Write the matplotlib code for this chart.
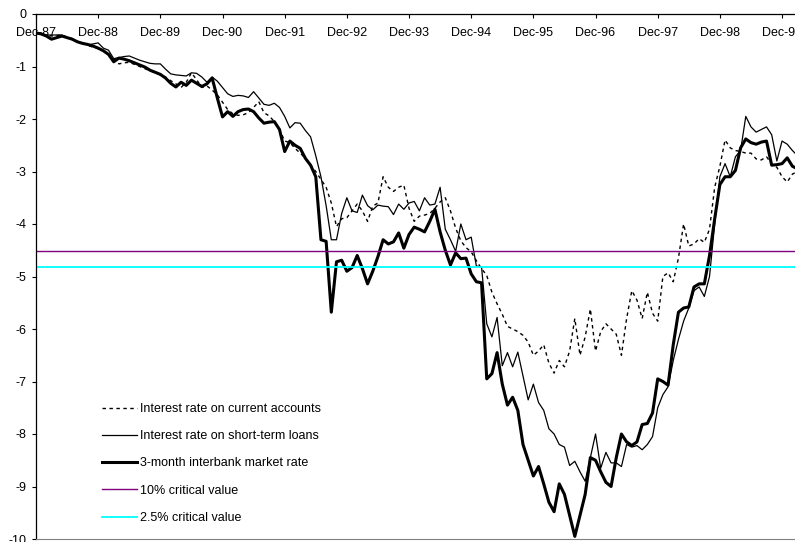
import numpy as np
import matplotlib
matplotlib.use("Agg")
import matplotlib.pyplot as plt
import pandas as pd

plt.rcParams['font.family'] = ['Liberation Sans', 'DejaVu Sans']

# monthly observations, Dec-87 onwards
months = pd.date_range("1987-12-01", periods=148, freq="MS")

current_accounts = [
    -0.36, -0.37, -0.40, -0.42, -0.41, -0.40, -0.44, -0.47, -0.52, -0.56, -0.60, -0.63, -0.66,
    -0.70, -0.76, -0.86, -0.95, -0.93, -0.92, -0.96, -1.00, -1.04, -1.08, -1.12, -1.16,
    -1.20, -1.27, -1.33, -1.40, -1.30, -1.12, -1.25, -1.40, -1.37, -1.45, -1.54, -1.68,
    -1.82, -1.90, -1.93, -1.92, -1.88, -1.78, -1.67, -1.88, -1.94, -2.05, -2.20, -2.42,
    -2.45, -2.56, -2.65,
    -2.75, -2.88, -3.00, -3.15, -3.30, -3.60, -4.05, -3.90, -3.88, -3.75, -3.62, -3.75,
    -3.95, -3.66, -3.60, -3.10, -3.30, -3.38, -3.30, -3.26, -3.70, -3.95, -3.85,
    -3.83, -3.80, -3.70, -3.58, -3.50, -3.75, -4.08, -4.32, -4.45, -4.53, -4.70, -4.85,
    -4.98, -5.30, -5.52, -5.72, -5.95, -6.00, -6.05,
    -6.12, -6.25, -6.50, -6.42, -6.30, -6.65, -6.84, -6.60, -6.72, -6.42, -5.80, -6.50,
    -6.15, -5.62, -6.42, -6.05, -5.90, -6.00, -6.10, -6.50, -5.80, -5.27, -5.45,
    -5.80, -5.30, -5.70, -5.85, -5.00, -4.93, -5.10, -4.65, -4.00, -4.42, -4.38, -4.28,
    -4.35, -4.10, -3.30, -2.90, -2.40, -2.55, -2.60, -2.62, -2.65, -2.65, -2.76, -2.78,
    -2.72, -2.85, -2.92, -3.10, -3.20, -3.05, -3.00,
]

short_term_loans = [
    -0.36, -0.38, -0.40, -0.40, -0.40, -0.40, -0.45, -0.49, -0.53, -0.56, -0.59, -0.57, -0.55,
    -0.65, -0.69, -0.85, -0.83, -0.81, -0.80, -0.84, -0.88, -0.91, -0.94, -0.95, -0.95,
    -1.05, -1.14, -1.16, -1.17, -1.18, -1.12, -1.13, -1.20, -1.30, -1.20, -1.28, -1.40,
    -1.52, -1.57, -1.55, -1.56, -1.59, -1.48, -1.60, -1.72, -1.74, -1.70, -1.78, -1.95,
    -2.17, -2.07, -2.08, -2.22, -2.34,
    -2.70, -3.10, -3.65, -4.30, -4.30, -3.80, -3.50, -3.75, -3.78, -3.45, -3.65, -3.73,
    -3.64, -3.66, -3.67, -3.82, -3.62, -3.72, -3.60, -3.57, -3.75,
    -3.50, -3.64, -3.62, -3.30, -4.10, -4.30, -4.52, -4.00, -4.30, -4.25, -4.80, -4.82,
    -5.90, -6.15, -5.78, -6.70, -6.45, -6.72, -6.44,
    -6.90, -7.35, -7.05, -7.40, -7.55, -7.90, -8.00, -8.20, -8.25, -8.60, -8.52, -8.72,
    -8.90, -8.45, -8.00, -8.65, -8.35, -8.55, -8.55, -8.62, -8.20, -8.25, -8.22,
    -8.30, -8.20, -8.05, -7.50, -7.25, -7.10, -6.60, -6.20, -5.85, -5.60, -5.27, -5.20,
    -5.38, -5.00, -4.00, -3.10, -2.85, -3.10, -2.72, -2.60, -1.95, -2.15, -2.25, -2.20,
    -2.15, -2.30, -2.80, -2.42, -2.48, -2.60, -2.70,
]

interbank_3m = [
    -0.36, -0.38, -0.42, -0.48, -0.45, -0.42, -0.45, -0.48, -0.53, -0.56, -0.58, -0.61, -0.65,
    -0.70, -0.77, -0.91, -0.84, -0.86, -0.89, -0.93, -0.97, -1.01, -1.07, -1.11, -1.15,
    -1.22, -1.32, -1.39, -1.30, -1.36, -1.26, -1.32, -1.38, -1.33, -1.22, -1.60, -1.96,
    -1.86, -1.95, -1.86, -1.82, -1.81, -1.86, -1.98, -2.08, -2.06, -2.05, -2.20, -2.62,
    -2.42, -2.50, -2.56,
    -2.75, -2.88, -3.10, -4.30, -4.33, -5.68, -4.72, -4.69, -4.90, -4.83, -4.60, -4.85,
    -5.14, -4.90, -4.62, -4.30, -4.38, -4.34, -4.17, -4.46, -4.20, -4.06, -4.10,
    -4.15, -3.95, -3.72, -4.15, -4.50, -4.78, -4.55, -4.66, -4.65, -4.95, -5.10, -5.12,
    -6.95, -6.85, -6.45, -7.05, -7.45, -7.30, -7.55,
    -8.20, -8.50, -8.80, -8.62, -8.95, -9.30, -9.48, -8.95, -9.15, -9.55, -9.95, -9.55,
    -9.15, -8.45, -8.50, -8.72, -8.92, -9.00, -8.45, -8.00, -8.15, -8.22, -8.15,
    -7.82, -7.80, -7.60, -6.95, -7.00, -7.07, -6.30, -5.68, -5.60, -5.58, -5.20, -5.14,
    -5.14, -4.60, -3.90, -3.25, -3.10, -3.10, -2.98, -2.55, -2.38, -2.45, -2.48, -2.44,
    -2.42, -2.88, -2.87, -2.85, -2.74, -2.90, -2.95,
]

crit_10 = -4.52
crit_25 = -4.82

x = np.arange(len(months))
tick_pos = x[::12]
tick_lab = [d.strftime("%b-%y") for d in months[::12]]

fig = plt.figure(figsize=(7.95, 5.42), dpi=100)
ax = fig.add_axes([36/795, 3/542, 1 - 36/795, 525/542])

ax.plot(x, current_accounts, color='black', lw=1.0, ls=(0, (2.5, 2.5)),
        label='Interest rate on current accounts')
ax.plot(x, short_term_loans, color='black', lw=0.9,
        label='Interest rate on short-term loans')
ax.plot(x, interbank_3m, color='black', lw=2.2,
        label='3-month interbank market rate')
ax.axhline(crit_10, color='#800080', lw=1.0, label='10% critical value')
ax.axhline(crit_25, color='#00FFFF', lw=1.3, label='2.5% critical value')

ax.set_xlim(0, 146.5)
ax.set_ylim(-10, 0)
ax.set_yticks(np.arange(-10, 1, 1))
ax.set_yticklabels([str(v) for v in range(-10, 1)])
ax.set_xticks(tick_pos)
ax.set_xticklabels(tick_lab)

ax.tick_params(axis='x', top=True, bottom=False, labeltop=True, labelbottom=False,
               direction='in', length=3, pad=-18, labelsize=9, width=0.8)
ax.tick_params(axis='y', direction='out', length=3, pad=3.6, labelsize=9, width=0.8)

ax.spines['right'].set_visible(False)
ax.spines['bottom'].set_color('#808080')
ax.spines['top'].set_linewidth(0.9)
ax.spines['left'].set_linewidth(0.9)

ax.legend(loc='upper left', bbox_to_anchor=(102/795, (542-403)/542),
          bbox_transform=fig.transFigure, frameon=False, fontsize=9,
          handlelength=2.8, handletextpad=0.25, labelspacing=1.22, borderpad=0,
          borderaxespad=0)

plt.savefig("out.png", dpi=100)
